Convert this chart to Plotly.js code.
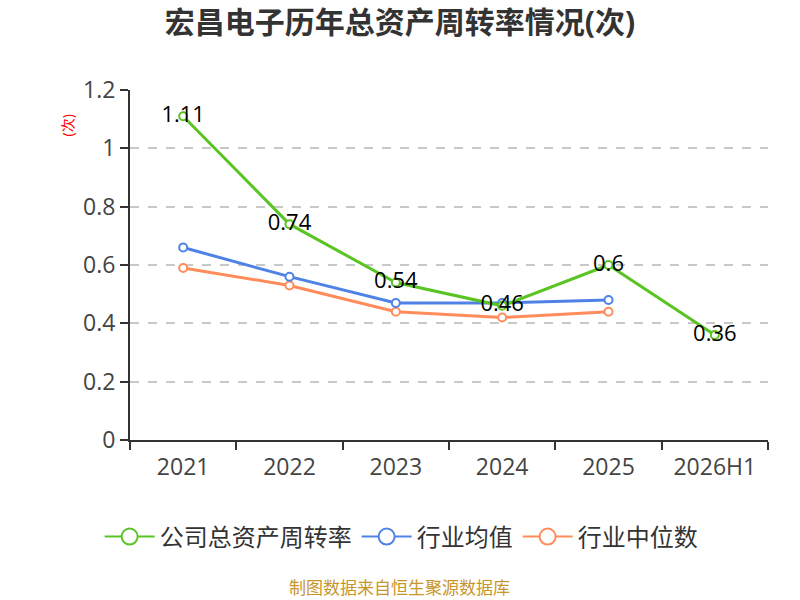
<!DOCTYPE html>
<html>
<head>
<meta charset="utf-8">
<script src="https://cdn.plot.ly/plotly-3.0.1.min.js"></script>
<style>body{margin:0;background:#fff}</style>
</head>
<body>
<div id="myDiv" style="width:800px;height:600px"></div>
<script>
var years = ['2021', '2022', '2023', '2024', '2025', '2026H1'];
var company = [1.11, 0.74, 0.54, 0.46, 0.6, 0.36];
var industryAvg = [0.66, 0.56, 0.47, 0.47, 0.48];
var industryMedian = [0.59, 0.53, 0.44, 0.42, 0.44];
var yTicks = [0, 0.2, 0.4, 0.6, 0.8, 1, 1.2];

var font = '"Open Sans", "Noto Sans CJK SC", sans-serif';

function series(name, y, color, withText) {
    var t = {
        x: years.slice(0, y.length),
        y: y,
        name: name,
        type: 'scatter',
        mode: withText ? 'lines+markers+text' : 'lines+markers',
        line: {color: color, width: 3},
        marker: {symbol: 'circle', size: 8, color: '#fff', line: {color: color, width: 2}},
        cliponaxis: false,
        showlegend: false
    };
    if (withText) {
        t.text = y.map(String);
        t.textposition = 'middle center';
        t.textfont = {family: font, size: 22, color: '#000'};
    }
    return t;
}

// legend-only entries with bigger circles, like the original
function legendItem(name, color) {
    return {
        x: [null], y: [null], name: name, type: 'scatter', mode: 'lines+markers',
        line: {color: color, width: 2},
        marker: {symbol: 'circle', size: 16, color: '#fff', line: {color: color, width: 2}},
        showlegend: true
    };
}

var data = [
    series('行业中位数', industryMedian, '#ff8c5a', false),
    series('行业均值', industryAvg, '#4f82e6', false),
    series('公司总资产周转率', company, '#5ac423', true),
    legendItem('公司总资产周转率', '#5ac423'),
    legendItem('行业均值', '#4f82e6'),
    legendItem('行业中位数', '#ff8c5a')
];

var layout = {
    width: 800,
    height: 600,
    margin: {l: 130, r: 32, t: 90, b: 160},
    paper_bgcolor: '#fff',
    plot_bgcolor: '#fff',
    font: {family: font, color: '#333'},
    title: {
        text: '<b>宏昌电子历年总资产周转率情况(次)</b>',
        x: 0.5, xanchor: 'center', y: 0.963, yanchor: 'middle',
        font: {size: 30, color: '#333', family: font}
    },
    xaxis: {
        type: 'category',
        range: [-0.5, 5.5],
        showline: true, linecolor: '#333', linewidth: 2,
        ticks: 'outside', tickson: 'boundaries', ticklen: 8, tickcolor: '#333', tickwidth: 1.5,
        ticklabelstandoff: 5,
        tickfont: {size: 23, color: '#444'},
        showgrid: false, zeroline: false
    },
    yaxis: {
        range: [0, 1.2],
        tickvals: yTicks,
        ticktext: yTicks.map(String),
        showline: true, linecolor: '#333', linewidth: 2,
        ticks: 'outside', ticklen: 8, tickcolor: '#333', tickwidth: 1.5,
        tickfont: {size: 23, color: '#444'},
        showgrid: true, gridcolor: '#c8c8c8', griddash: 'dash', gridwidth: 1.5,
        zeroline: false
    },
    legend: {
        orientation: 'h', x: 0.425, xanchor: 'center', y: -0.277, yanchor: 'middle',
        font: {size: 24, color: '#333'},
        itemwidth: 50
    },
    annotations: [
        {
            text: '(次)', textangle: -90, xref: 'paper', yref: 'paper',
            x: -0.098, y: 0.9, xanchor: 'center', yanchor: 'middle', showarrow: false,
            font: {size: 14, color: '#ff0000'}
        },
        {
            text: '制图数据来自恒生聚源数据库', xref: 'paper', yref: 'paper',
            x: 0.423, y: -0.42, xanchor: 'center', yanchor: 'middle', showarrow: false,
            font: {size: 17, color: '#c8962a'}
        }
    ]
};

Plotly.newPlot('myDiv', data, layout, {displayModeBar: false});
</script>
</body>
</html>
